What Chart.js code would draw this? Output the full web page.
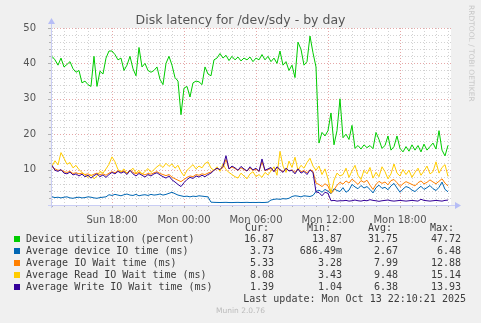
<!DOCTYPE html>
<html>
<head>
<meta charset="utf-8">
<script src="https://cdn.jsdelivr.net/npm/chart.js@4.4.0/dist/chart.umd.min.js"></script>
<style>
  body { margin: 0; background: #f0f0f0; }
  #wrap { position: relative; width: 481px; height: 323px; overflow: hidden; }
  #chart { position: absolute; left: 0; top: 0; }
  .t { position: absolute; white-space: pre; line-height: 12px; }
  #title { left: 0; width: 481px; top: 12px; text-align: center; font: 12.5px "DejaVu Sans"; color: #555; }
  .mono { font: 10px "DejaVu Sans Mono"; color: #3c3c3c; }
  .sq { position: absolute; width: 6px; height: 6px; }
  #side { left: 476px; top: 5px; font: 7.5px "DejaVu Sans"; color: #c8c8c8; transform: rotate(90deg); transform-origin: 0 0; }
  #foot { left: 0; width: 481px; top: 306px; text-align: center; font: 7.5px "DejaVu Sans"; color: #bbb; }
</style>
</head>
<body>
<div id="wrap">
  <canvas id="chart" width="481" height="323"></canvas>
  <div id="title" class="t">Disk latency for /dev/sdy - by day</div>
  <div id="side" class="t">RRDTOOL / TOBI OETIKER</div>
  <div id="legend"></div>
  <div id="foot" class="t">Munin 2.0.76</div>
</div>
<script>
// sample times, hours after Sun 00:00 (15 minute steps)
const hours = [];
for (let i = 0; i < 133; i++) hours.push(13 + i * 0.25);

const xTicks = [18, 24, 30, 36, 42];
const xTickLabels = ['Sun 18:00', 'Mon 00:00', 'Mon 06:00', 'Mon 12:00', 'Mon 18:00'];
const yTicks = [10, 20, 30, 40, 50];

const utilization = [
  42, 41, 39.5, 41.5, 39, 39.7, 40.5, 38.5, 37.5, 38,
  34.5, 35, 34, 33.5, 42, 33.5, 37.8, 37, 41.5, 43.5,
  43.5, 42.5, 41, 41.5, 38, 39.5, 42, 38.5, 36.5, 44.5,
  39, 40, 38, 37.5, 38, 39, 35.5, 34, 40, 42,
  39.5, 36, 35, 25.5, 33, 33.5, 30.5, 34.5, 35, 34.8,
  34, 39, 37, 36.5, 41, 41.5, 42.8, 41.5, 42.3, 40.8,
  42, 41, 41.8, 40.7, 41.5, 41, 41.8, 40.5, 41.5, 41,
  42.5, 41, 42, 40.5, 41.5, 40, 43.5, 39.5, 40.5, 38,
  39.5, 36, 46, 44, 39.5, 40.5, 47.72, 43, 39,
  17.5, 20.5, 19.5, 21, 26, 17, 21, 30, 19, 20,
  18.5, 22.5, 16, 16.8, 15.8, 17, 16.2, 16.8, 15.9, 20.5,
  18.5, 16, 16.8, 19.5, 15.5, 16.5, 19.5, 16, 15, 16.5,
  15.2, 17, 15.5, 16.8, 15, 17.2, 15.5, 16.5, 17.5, 15.8,
  21, 15.5, 13.87, 16.87
];

const deviceIo = [
  2.3, 2.1, 2.2, 2.0, 2.2, 2.3, 2.0, 1.9, 2.1, 2.2, 2.0, 2.1, 2.3, 2.2, 2.0, 1.9, 2.1, 2.2, 2.3,
  2.9, 2.7, 3.0, 2.8, 2.6, 2.9, 3.1, 2.8, 2.7, 3.0, 2.6, 2.8, 2.9, 2.7, 3.0, 2.8, 2.9, 3.1, 2.8, 3.0, 3.3, 3.6, 3.2, 2.8,
  2.6, 2.4, 2.5, 2.3, 2.5, 2.4, 2.6, 2.5, 2.4, 2.3,
  0.8, 0.75, 0.72, 0.7, 0.72, 0.75, 0.7, 0.686, 0.72, 0.74, 0.7, 0.72, 0.75, 0.7, 0.72, 0.71, 0.74, 0.7, 0.72, 0.8,
  1.4, 1.6, 1.7, 1.6, 1.8, 1.7, 1.9,
  2.4, 2.6, 2.5, 2.3, 2.6, 2.5, 2.4, 2.7,
  3.8, 4.2, 3.6, 4.4, 3.9, 3.2, 4.6, 4.1, 3.8,
  4.9, 3.6, 4.2, 5.8, 5.1, 4.6, 5.5, 4.8, 5.2, 4.4, 3.4, 4.9, 5.6, 4.7, 5.0, 4.3, 5.4, 6.1,
  4.8, 3.6, 4.5, 5.2, 4.9, 4.2, 3.8, 4.6, 5.3, 4.4, 4.9, 5.5, 4.6, 4.1, 5.0, 6.48, 4.4, 3.73
];

const ioWait = [
  10.8, 10.2, 9.8, 9.9, 9.4, 9.2, 9.5, 8.9, 9.1, 8.8, 9.0, 8.6, 8.8, 8.3, 8.7, 9.0, 8.6, 8.8, 8.4,
  9.0, 9.4, 9.1, 9.7, 9.3, 9.6, 9.0, 9.9, 9.2, 8.8, 9.2, 8.9, 8.5, 8.9, 8.7, 9.1, 9.4, 8.9, 8.6, 8.3, 8.6, 7.9, 7.4, 7.0,
  6.6, 7.2, 7.8, 8.2, 8.0, 8.6, 8.4, 8.8, 8.6, 9.0,
  9.3, 9.9, 10.3, 10.0, 10.6, 12.88, 10.2, 10.7,
  10.3, 9.8, 10.5, 10.0, 9.6, 10.4, 9.8, 10.1, 9.5, 12.2, 9.7, 10.0,
  10.3, 9.5, 10.6, 9.9, 9.4, 10.3, 9.7,
  9.9, 9.2, 10.3, 9.4, 9.7, 9.1, 10.0, 9.5,
  6.2, 5.8, 5.2, 6.0, 5.4, 3.28, 4.2, 5.6, 6.4,
  5.9, 6.8, 6.2, 7.3, 6.6, 5.8, 6.9, 6.4, 7.0, 5.6, 4.4, 5.8, 6.7, 6.1, 6.5, 5.7, 6.9, 7.2,
  6.3, 5.2, 6.0, 6.6, 6.2, 5.8, 5.4, 6.3, 6.8, 6.0, 6.4, 7.1, 6.5, 6.0, 6.7, 7.4, 6.2, 5.33
];

const readWait = [
  11.0, 12.5, 11.3, 14.8, 13.2, 11.5, 12.0, 10.5, 11.2, 10.0, 9.2, 8.5, 7.8, 8.6, 7.4, 8.2, 9.5, 9.0, 10.2,
  11.5, 13.6, 12.2, 10.0, 9.4, 10.2, 8.8, 9.6, 10.4, 9.0, 9.8, 8.6, 9.5, 10.3, 9.2, 10.0, 10.8, 11.4, 10.6, 11.8, 10.9, 11.6, 10.4, 11.2,
  9.4, 8.2, 9.8, 10.6, 11.4, 10.2, 11.0, 10.5, 11.7, 12.2,
  10.4, 9.8, 10.8, 9.5, 11.6, 10.0, 9.2, 8.6,
  8.0, 7.6, 9.0, 8.2, 7.4, 8.8, 9.4, 8.0, 8.6, 7.8, 9.2, 8.5,
  9.6, 10.8, 8.4, 15.14, 11.0, 9.2, 12.4,
  10.6, 13.5, 9.8, 11.2, 10.4, 12.0, 13.2, 11.0,
  9.8, 11.0, 8.6, 10.2, 7.4, 3.43, 7.0, 9.0, 8.2,
  8.6, 10.4, 7.8, 9.6, 11.2, 8.4, 7.2, 9.8, 8.8, 10.6, 7.6, 9.2, 8.0, 10.8, 9.4, 7.4, 8.8, 11.6,
  9.0, 8.2, 10.0, 8.6, 9.8, 7.8, 9.2, 10.4, 8.4, 9.6, 11.0, 8.8, 9.4, 12.2, 9.0, 10.6, 11.4, 8.08
];

const writeWait = [
  11.2, 9.8, 9.5, 10.0, 9.0, 8.8, 9.3, 8.5, 8.8, 8.2, 8.7, 8.0, 8.4, 7.6, 8.3, 8.8, 8.0, 8.5, 7.8,
  8.6, 9.2, 8.8, 9.5, 9.0, 9.4, 8.6, 9.8, 8.8, 8.2, 8.9, 8.4, 7.9, 8.6, 8.2, 8.8, 9.1, 8.5, 8.0, 7.6, 8.2, 7.1, 6.5, 5.8,
  5.2, 6.3, 7.2, 7.8, 7.5, 8.2, 7.9, 8.4, 8.0, 8.6,
  9.0, 9.8, 10.4, 10.0, 10.9, 13.93, 10.2, 11.0,
  10.5, 9.8, 10.9, 10.2, 9.6, 10.8, 9.9, 10.4, 9.5, 13.0, 9.8, 10.2,
  10.6, 9.4, 10.8, 10.0, 9.2, 10.4, 9.6,
  9.8, 8.8, 10.2, 9.0, 9.5, 8.6, 9.9, 9.2,
  3.7, 3.5, 2.6, 3.6, 3.3, 1.2, 1.3, 1.1, 1.2,
  1.2, 1.3, 1.1, 1.2, 1.4, 1.2, 1.1, 1.3, 1.2, 1.5, 1.3, 1.2, 1.04, 1.2, 1.3, 1.4, 1.2, 1.1,
  1.2, 1.3, 1.2, 1.1, 1.2, 1.3, 1.2, 1.1, 1.6, 1.3, 1.2, 1.1, 1.2, 1.3, 1.2, 1.1, 1.3, 1.39
];

// legend table
const seriesNames = [
  'Device utilization (percent)',
  'Average device IO time (ms)',
  'Average IO Wait time (ms)',
  'Average Read IO Wait time (ms)',
  'Average Write IO Wait time (ms)'
];
const seriesColors = ['#00cc00', '#0066b3', '#ff8000', '#ffcc00', '#330099'];
const curText = ['16.87', '3.73', '5.33', '8.08', '1.39'];
const minText = ['13.87', '686.49m', '3.28', '3.43', '1.04'];
const avgText = ['31.75', '2.67', '7.99', '9.48', '6.38'];
const maxText = ['47.72', '6.48', '12.88', '15.14', '13.93'];

const seriesData = [utilization, deviceIo, ioWait, readWait, writeWait];

const toPoints = arr => hours.map((h, i) => ({ x: h, y: arr[i] }));

function hline(ctx, x1, x2, y) {
  ctx.beginPath(); ctx.moveTo(x1, y); ctx.lineTo(x2, y); ctx.stroke();
}
function vline(ctx, x, y1, y2) {
  ctx.beginPath(); ctx.moveTo(x, y1); ctx.lineTo(x, y2); ctx.stroke();
}

// white canvas + dotted grid behind the lines
const gridPlugin = {
  id: 'gridPlugin',
  beforeDatasetsDraw(chart) {
    const { ctx, chartArea: a, scales } = chart;
    const x = scales.x, y = scales.y;
    ctx.save();
    ctx.fillStyle = '#ffffff';
    ctx.fillRect(a.left, a.top, a.right - a.left, a.bottom - a.top);
    ctx.lineWidth = 1;
    ctx.setLineDash([1, 2]);
    for (let v = 2; v <= 50; v += 2) {
      const py = Math.round(y.getPixelForValue(v)) + 0.5;
      ctx.strokeStyle = v % 10 === 0 ? 'rgba(215,120,120,0.65)' : 'rgba(165,165,165,0.5)';
      hline(ctx, a.left, a.right, py);
    }
    for (let h = 13; h <= 46; h++) {
      const px = Math.round(x.getPixelForValue(h)) + 0.5;
      ctx.strokeStyle = h % 6 === 0 ? 'rgba(215,120,120,0.65)' : 'rgba(165,165,165,0.5)';
      vline(ctx, px, a.top, a.bottom);
    }
    ctx.restore();
  },
  afterDatasetsDraw(chart) {
    const { ctx, chartArea: a, scales } = chart;
    const x = scales.x, y = scales.y;
    ctx.save();
    ctx.lineWidth = 1;
    // small tick marks on the axes
    ctx.strokeStyle = 'rgba(150,150,150,0.7)';
    for (let v = 2; v <= 50; v += 2) {
      const py = Math.round(y.getPixelForValue(v)) + 0.5;
      hline(ctx, a.left - (v % 10 === 0 ? 3 : 2), a.left, py);
    }
    for (let h = 13; h <= 46; h++) {
      const px = Math.round(x.getPixelForValue(h)) + 0.5;
      vline(ctx, px, a.bottom, a.bottom + (h % 6 === 0 ? 3 : 2));
    }
    // axes with arrows
    const ax = Math.round(a.left) + 0.5, ay = Math.round(a.bottom) + 0.5;
    ctx.strokeStyle = '#c9cdf4';
    hline(ctx, a.left - 3, a.right + 4, ay);
    vline(ctx, ax, a.bottom + 3, a.top - 4);
    ctx.fillStyle = '#b6bdf6';
    ctx.beginPath();
    ctx.moveTo(a.right + 10, ay); ctx.lineTo(a.right + 4, ay - 3.5); ctx.lineTo(a.right + 4, ay + 3.5);
    ctx.closePath(); ctx.fill();
    ctx.beginPath();
    ctx.moveTo(ax, a.top - 10); ctx.lineTo(ax - 3.5, a.top - 4); ctx.lineTo(ax + 3.5, a.top - 4);
    ctx.closePath(); ctx.fill();
    ctx.restore();
  }
};

const tickFont = { family: 'DejaVu Sans', size: 10 };

new Chart(document.getElementById('chart'), {
  type: 'line',
  data: {
    datasets: seriesData.map((arr, k) => ({
      label: seriesNames[k],
      data: toPoints(arr),
      borderColor: seriesColors[k],
      backgroundColor: seriesColors[k],
      borderWidth: 1,
      pointRadius: 0,
      tension: 0,
      fill: false,
      order: 5 - k
    }))
  },
  options: {
    responsive: false,
    animation: false,
    devicePixelRatio: 1,
    events: [],
    layout: { padding: { left: 0, top: 28, right: 30, bottom: 0 } },
    plugins: {
      legend: { display: false },
      tooltip: { enabled: false },
      title: { display: false }
    },
    scales: {
      x: {
        type: 'linear',
        min: 12.9167,
        max: 46.25,
        grid: { display: false },
        border: { display: false },
        afterFit: s => { s.height = 118; },
        afterBuildTicks: s => { s.ticks = xTicks.map(v => ({ value: v })); },
        ticks: {
          autoSkip: false,
          maxRotation: 0,
          padding: 1,
          font: tickFont,
          color: '#555',
          callback: (v, i) => xTickLabels[i]
        }
      },
      y: {
        min: 0,
        max: 50,
        grid: { display: false },
        border: { display: false },
        afterFit: s => { s.width = 51; },
        afterBuildTicks: s => { s.ticks = yTicks.map(v => ({ value: v })); },
        ticks: { padding: 7, font: tickFont, color: '#555' }
      }
    }
  },
  plugins: [gridPlugin]
});

// legend rows under the graph
const legend = document.getElementById('legend');
function addText(txt, left, top, right) {
  const d = document.createElement('div');
  d.className = 't mono';
  d.textContent = txt;
  d.style.top = top + 'px';
  if (right !== undefined) d.style.right = (481 - right) + 'px';
  else d.style.left = left + 'px';
  legend.appendChild(d);
}
addText('Cur:', 245, 222);
addText('Min:', 307, 222);
addText('Avg:', 368, 222);
addText('Max:', 430, 222);
seriesNames.forEach((name, k) => {
  const top = 233 + k * 12;
  const sq = document.createElement('div');
  sq.className = 'sq';
  sq.style.left = '14px';
  sq.style.top = (top + 3) + 'px';
  sq.style.background = seriesColors[k];
  legend.appendChild(sq);
  addText(name, 26, top);
  addText(curText[k], 0, top, 274);
  addText(minText[k], 0, top, 342);
  addText(avgText[k], 0, top, 398);
  addText(maxText[k], 0, top, 461);
});
addText('Last update: Mon Oct 13 22:10:21 2025', 0, 293, 466);
</script>
</body>
</html>
